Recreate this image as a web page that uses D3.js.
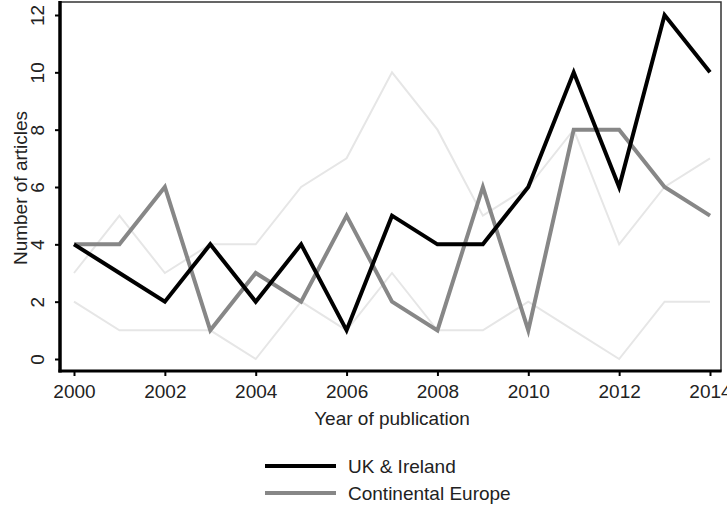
<!DOCTYPE html>
<html>
<head>
<meta charset="utf-8">
<script src="https://cdn.jsdelivr.net/npm/d3@7"></script>
<style>
  body { margin: 0; background: #fff; }
  svg { display: block; }
  text { font-family: "Liberation Sans", Arial, sans-serif; fill: #222; }
</style>
</head>
<body>
<svg width="727" height="505"></svg>
<script>
// Data
const years = [2000, 2001, 2002, 2003, 2004, 2005, 2006, 2007, 2008, 2009, 2010, 2011, 2012, 2013, 2014];
const ukIreland = [4, 3, 2, 4, 2, 4, 1, 5, 4, 4, 6, 10, 6, 12, 10];
const continentalEurope = [4, 4, 6, 1, 3, 2, 5, 2, 1, 6, 1, 8, 8, 6, 5];
// two background series drawn very faint, no legend entry
const otherUpper = [3, 5, 3, 4, 4, 6, 7, 10, 8, 5, 6, 8, 4, 6, 7];
const otherLower = [2, 1, 1, 1, 0, 2, 1, 3, 1, 1, 2, 1, 0, 2, 2];
const xTicks = [2000, 2002, 2004, 2006, 2008, 2010, 2012, 2014];
const yTicks = [0, 2, 4, 6, 8, 10, 12];

const svg = d3.select("svg");

const xScale = d3.scaleLinear()
    .domain([2000, 2014])
    .range([74, 710]);

const yScale = d3.scaleLinear()
    .domain([0, 12])
    .range([359, 15]);

const line = values => d3.line()
    .x((_, i) => xScale(years[i]))
    .y(d => yScale(d))(values);

// Faint series first so the main ones sit on top
[otherUpper, otherLower].forEach(vals => {
    svg.append("path")
        .attr("d", line(vals))
        .attr("fill", "none")
        .attr("stroke", "#e6e6e6")
        .attr("stroke-width", 2);
});

svg.append("path")
    .attr("d", line(continentalEurope))
    .attr("fill", "none")
    .attr("stroke", "#878787")
    .attr("stroke-width", 4)
    .attr("stroke-linejoin", "miter");

svg.append("path")
    .attr("d", line(ukIreland))
    .attr("fill", "none")
    .attr("stroke", "#000")
    .attr("stroke-width", 4)
    .attr("stroke-linejoin", "miter");

// Plot frame: thin top/right, heavy left/bottom axes
svg.append("rect")
    .attr("x", 60).attr("y", 2)
    .attr("width", 661).attr("height", 369)
    .attr("fill", "none")
    .attr("stroke", "#333")
    .attr("stroke-width", 1.5);

// y axis
const yAxis = svg.append("g")
    .attr("transform", "translate(60,0)")
    .call(d3.axisLeft(yScale).tickValues(yTicks).tickSize(5).tickSizeOuter(0));
yAxis.select(".domain").remove();
yAxis.selectAll("line").attr("stroke", "#000").attr("stroke-width", 2);
yAxis.selectAll("text")
    .attr("x", null).attr("dy", null)
    .attr("transform", "rotate(-90)")
    .attr("y", -16)
    .attr("text-anchor", "middle")
    .style("font-size", "19px")
    .style("fill", "#222");

// x axis
const xAxis = svg.append("g")
    .attr("transform", "translate(0,371)")
    .call(d3.axisBottom(xScale).tickValues(xTicks).tickFormat(d3.format("d")).tickSize(5).tickPadding(9).tickSizeOuter(0));
xAxis.select(".domain").remove();
xAxis.selectAll("line").attr("stroke", "#000").attr("stroke-width", 2);
xAxis.selectAll("text")
    .style("font-size", "19px")
    .style("fill", "#222");

svg.append("line")
    .attr("x1", 60).attr("x2", 60).attr("y1", 1).attr("y2", 372.5)
    .attr("stroke", "#000").attr("stroke-width", 3.5);
svg.append("line")
    .attr("x1", 58.5).attr("x2", 721.5).attr("y1", 371).attr("y2", 371)
    .attr("stroke", "#000").attr("stroke-width", 3);

// Axis titles
svg.append("text")
    .attr("transform", "translate(27,188) rotate(-90)")
    .attr("text-anchor", "middle")
    .style("font-size", "19px")
    .text("Number of articles");

svg.append("text")
    .attr("x", 392).attr("y", 425)
    .attr("text-anchor", "middle")
    .style("font-size", "19px")
    .text("Year of publication");

// Legend
const legend = [
    { name: "UK & Ireland", color: "#000" },
    { name: "Continental Europe", color: "#878787" }
];
const legendY = d3.scalePoint().domain(legend.map(d => d.name)).range([466, 493]);

legend.forEach(d => {
    svg.append("line")
        .attr("x1", 265).attr("x2", 336)
        .attr("y1", legendY(d.name)).attr("y2", legendY(d.name))
        .attr("stroke", d.color).attr("stroke-width", 4);
    svg.append("text")
        .attr("x", 348).attr("y", legendY(d.name) + 7)
        .style("font-size", "19px")
        .text(d.name);
});
</script>
</body>
</html>
